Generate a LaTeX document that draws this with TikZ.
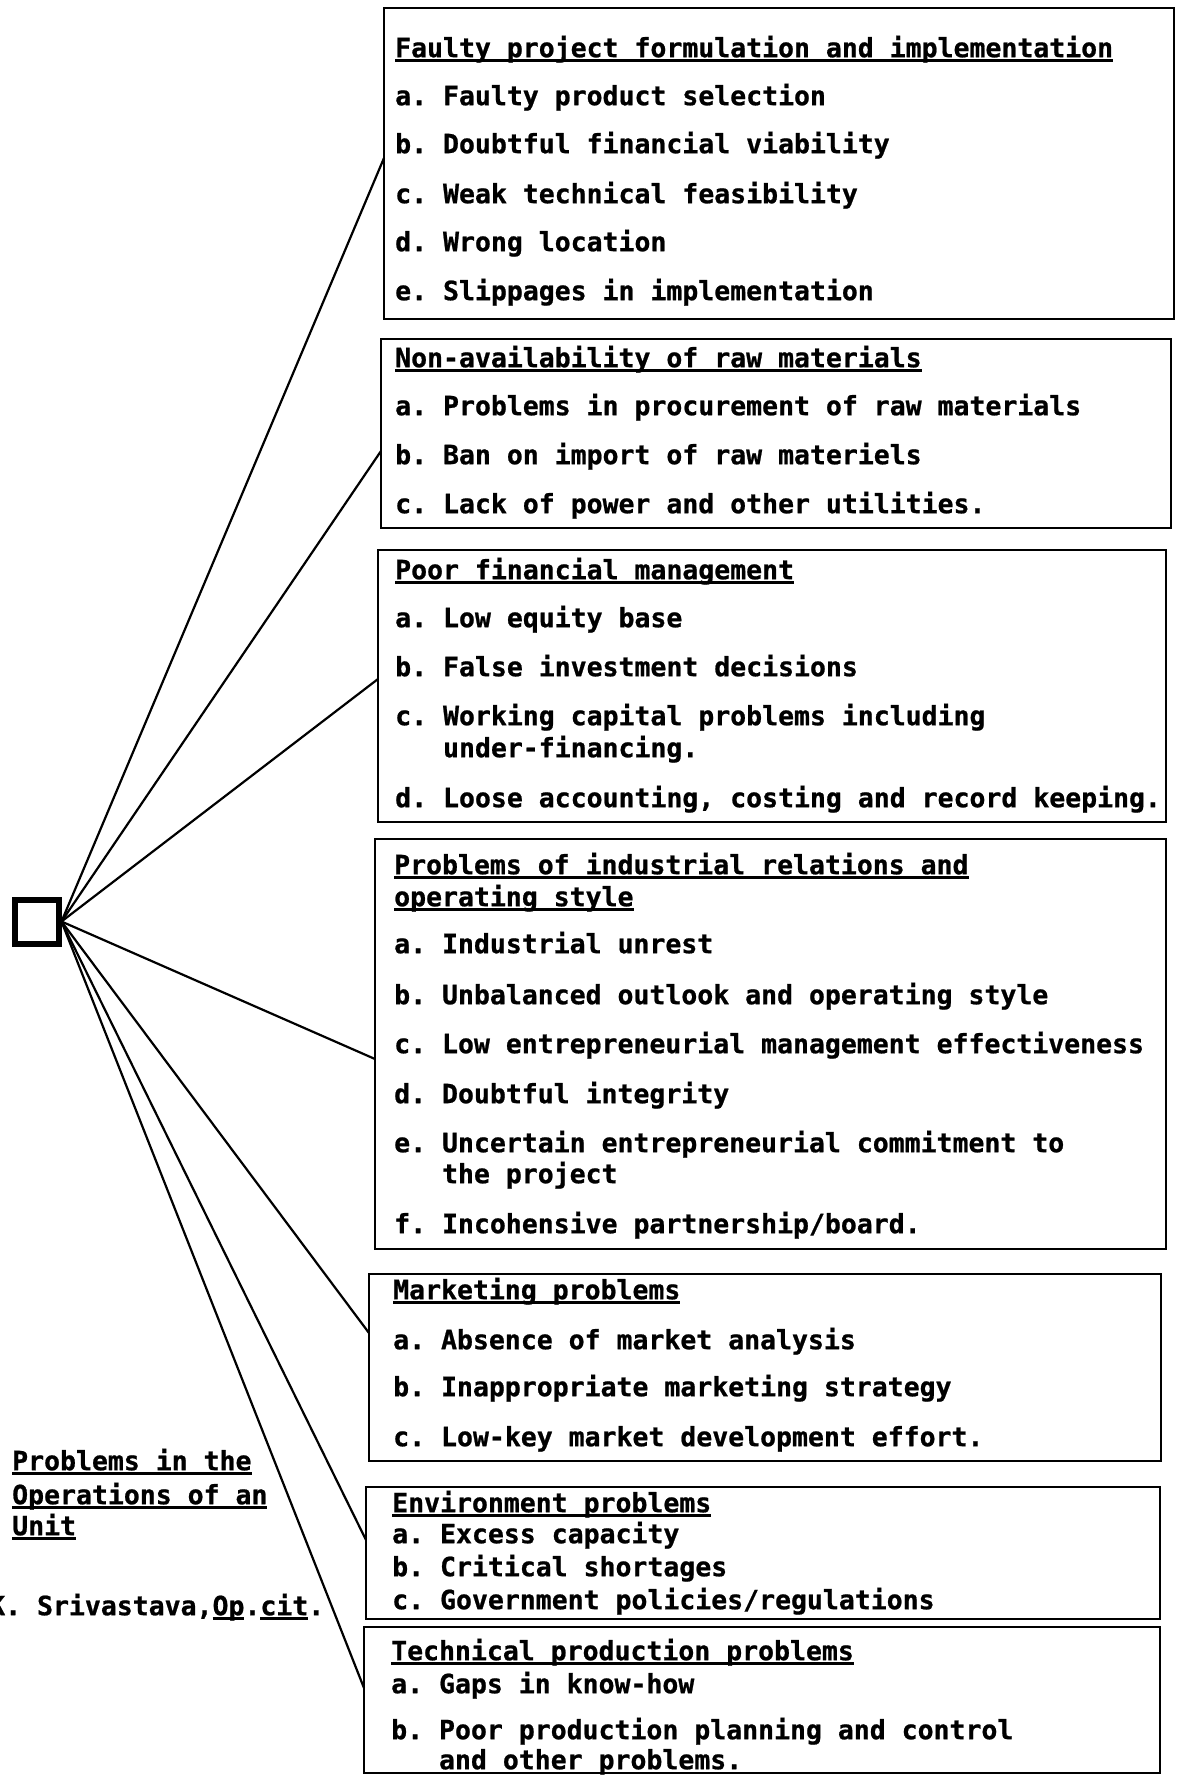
\documentclass[tikz,border=0pt]{standalone}
\usepackage{fontspec}
\newfontfamily\tw{DejaVu Sans Mono Bold}[FakeBold=0.8]
\usetikzlibrary{calc}
\newcommand\ulx[1]{\setbox0\hbox{#1}\rlap{\rule[-4.5pt]{\wd0}{3pt}}\box0}
\begin{document}
\begin{tikzpicture}[x=1pt,y=-1pt,
  box/.style={draw, line width=2.7pt, inner sep=0pt, outer sep=0pt, anchor=north west},
  txt/.style={anchor=mid west, inner sep=0pt, font=\fontsize{26.5}{30}\selectfont\tw\frenchspacing},
  conn/.style={line width=2.2pt},
]
\useasboundingbox (0,0) rectangle (1181,1775);
\fill[white] (0,0) rectangle (1181,1775);

% central square
\node[draw, line width=6pt, minimum size=44pt, inner sep=0pt] (sq) at (36.5,921.5) {};

% boxes
\node[box, minimum width=790pt, minimum height=311pt] (b1) at (384,8) {};
\node[box, minimum width=790pt, minimum height=189pt] (b2) at (381,339) {};
\node[box, minimum width=788pt, minimum height=272pt] (b3) at (378,550) {};
\node[box, minimum width=791pt, minimum height=410pt] (b4) at (375,839) {};
\node[box, minimum width=792pt, minimum height=187pt] (b5) at (369,1274) {};
\node[box, minimum width=794pt, minimum height=132pt] (b6) at (366,1487) {};
\node[box, minimum width=796pt, minimum height=146pt] (b7) at (364,1627) {};

% connectors
\draw[conn] (sq.east) -- ($(b1.north west)+(0,150)$);
\draw[conn] (sq.east) -- ($(b2.north west)+(0,112)$);
\draw[conn] (sq.east) -- ($(b3.north west)+(0,129)$);
\draw[conn] (sq.east) -- ($(b4.north west)+(0,220)$);
\draw[conn] (sq.east) -- ($(b5.north west)+(0,59)$);
\draw[conn] (sq.east) -- ($(b6.north west)+(0,53)$);
\draw[conn] (sq.east) -- ($(b7.north west)+(0,61)$);

% box 1
\node[txt] (t1) at (395,55) {\ulx{Faulty project formulation and implementation}};
\node[txt] (t1a) at (395,103) {a. Faulty product selection};
\node[txt] (t1b) at (395,151) {b. Doubtful financial viability};
\node[txt] (t1c) at (395,201) {c. Weak technical feasibility};
\node[txt] (t1d) at (395,249) {d. Wrong location};
\node[txt] (t1e) at (395,298) {e. Slippages in implementation};

% box 2
\node[txt] (t2) at (395,365) {\ulx{Non-availability of raw materials}};
\node[txt] (t2a) at (395,413) {a. Problems in procurement of raw materials};
\node[txt] (t2b) at (395,462) {b. Ban on import of raw materiels};
\node[txt] (t2c) at (395,511) {c. Lack of power and other utilities.};

% box 3
\node[txt] (t3) at (395,577) {\ulx{Poor financial management}};
\node[txt] (t3a) at (395,625) {a. Low equity base};
\node[txt] (t3b) at (395,674) {b. False investment decisions};
\node[txt] (t3c) at (395,723) {c. Working capital problems including};
\node[txt] (t3c2) at (395,755) {\phantom{c. }under-financing.};
\node[txt] (t3d) at (395,805) {d. Loose accounting, costing and record keeping.};

% box 4
\node[txt] (t4) at (394,872) {\ulx{Problems of industrial relations and}};
\node[txt] (t4b) at (394,904) {\ulx{operating style}};
\node[txt] (t4ia) at (394,951) {a. Industrial unrest};
\node[txt] (t4ib) at (394,1002) {b. Unbalanced outlook and operating style};
\node[txt] (t4ic) at (394,1051) {c. Low entrepreneurial management effectiveness};
\node[txt] (t4id) at (394,1101) {d. Doubtful integrity};
\node[txt] (t4ie) at (394,1150) {e. Uncertain entrepreneurial commitment to};
\node[txt] (t4ie2) at (394,1181) {\phantom{e. }the project};
\node[txt] (t4if) at (394,1231) {f. Incohensive partnership/board.};

% box 5
\node[txt] (t5) at (393,1297) {\ulx{Marketing problems}};
\node[txt] (t5a) at (393,1347) {a. Absence of market analysis};
\node[txt] (t5b) at (393,1394) {b. Inappropriate marketing strategy};
\node[txt] (t5c) at (393,1444) {c. Low-key market development effort.};

% box 6
\node[txt] (t6) at (392,1510) {\ulx{Environment problems}};
\node[txt] (t6a) at (392,1541) {a. Excess capacity};
\node[txt] (t6b) at (392,1574) {b. Critical shortages};
\node[txt] (t6c) at (392,1607) {c. Government policies/regulations};

% box 7
\node[txt] (t7) at (391,1658) {\ulx{Technical production problems}};
\node[txt] (t7a) at (391,1691) {a. Gaps in know-how};
\node[txt] (t7b) at (391,1737) {b. Poor production planning and control};
\node[txt] (t7b2) at (391,1767) {\phantom{b. }and other problems.};

% left caption
\node[txt] (c1) at (12,1468) {\ulx{Problems in the}};
\node[txt] (c2) at (12,1502) {\ulx{Operations of an}};
\node[txt] (c3) at (12,1533) {\ulx{Unit}};
\node[txt] (src) at (-11,1613) {K. Srivastava,\ulx{Op}.\ulx{cit}.};
\end{tikzpicture}
\end{document}
